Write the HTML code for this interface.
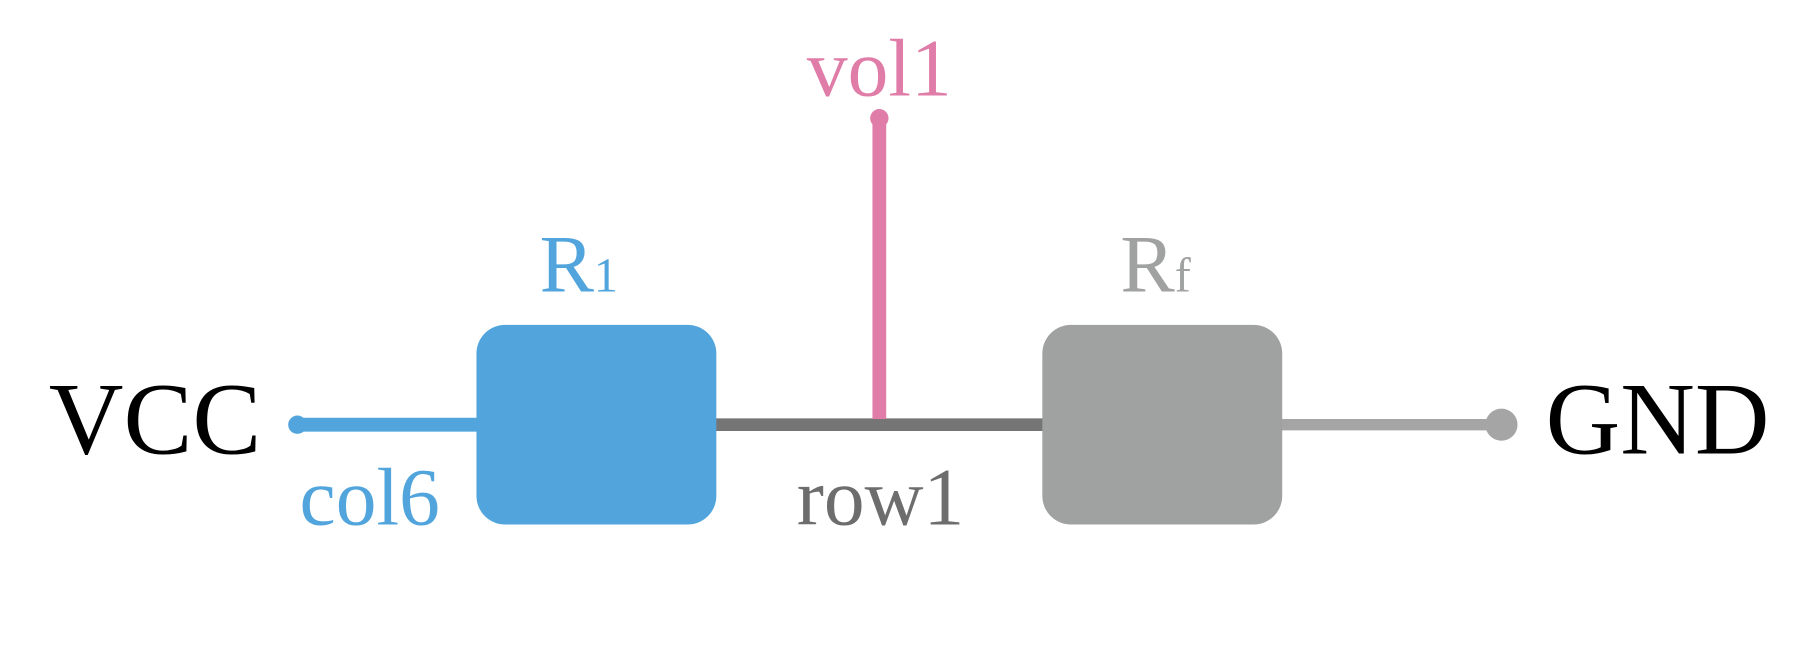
<!DOCTYPE html>
<html><head><meta charset="utf-8"><style>
html,body{margin:0;padding:0;background:#fff;}
svg{display:block;}
text{font-family:"Liberation Serif",serif;}
</style></head><body>
<svg width="1800" height="660" viewBox="0 0 1568 575" xmlns="http://www.w3.org/2000/svg">
<rect width="1568" height="575" fill="#fff"/>
<line x1="258" y1="370" x2="420" y2="370" stroke="#52a5dc" stroke-width="12"/>
<circle cx="259" cy="370" r="8" fill="#52a5dc"/>
<line x1="620" y1="370" x2="912" y2="370" stroke="#757575" stroke-width="11"/>
<line x1="1112" y1="370" x2="1308" y2="370" stroke="#a5a5a5" stroke-width="10"/>
<circle cx="1308" cy="370" r="14" fill="#a5a5a5"/>
<line x1="766" y1="103" x2="766" y2="365" stroke="#e07ca8" stroke-width="12"/>
<circle cx="766" cy="103" r="8" fill="#e07ca8"/>
<rect x="415" y="283" width="209" height="174" rx="25" fill="#52a5dc"/>
<rect x="908" y="283" width="209" height="174" rx="25" fill="#a0a2a1"/>
<text x="135" y="395" font-size="90" text-anchor="middle" fill="#000">VCC</text>
<text x="1444" y="395" font-size="90" text-anchor="middle" fill="#000">GND</text>
<text x="766" y="83" font-size="71" text-anchor="middle" fill="#e07ca8">vol1</text>
<text x="322" y="457" font-size="71" text-anchor="middle" fill="#52a5dc">col6</text>
<text x="767" y="457" font-size="71" text-anchor="middle" fill="#6d6d6d">row1</text>
<text x="470" y="254" font-size="71" fill="#52a5dc">R<tspan font-size="42">1</tspan></text>
<text x="976" y="254" font-size="71" fill="#a0a2a1">R<tspan font-size="42">f</tspan></text>
</svg>
</body></html>
